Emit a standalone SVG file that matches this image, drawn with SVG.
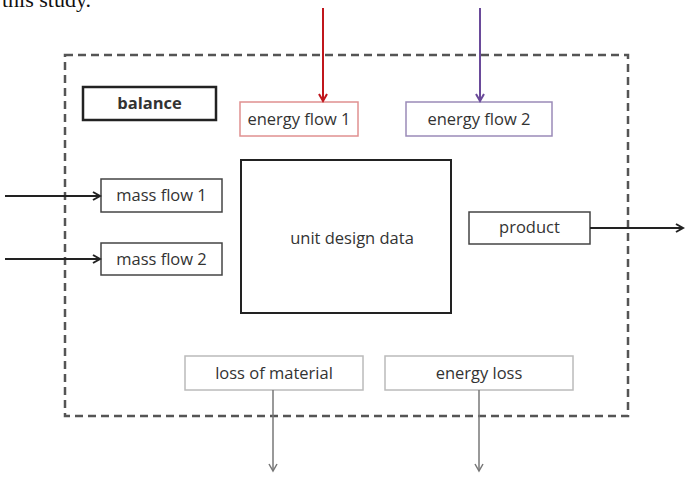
<svg xmlns="http://www.w3.org/2000/svg" width="685" height="477" viewBox="0 0 685 477">
<defs>
<style>
.t{font-family:"Open Sans","Liberation Sans",sans-serif;font-size:16.5px;fill:#333;text-anchor:middle}
.g{fill:#fff;stroke:#bbb;stroke-width:1.5}
.k{fill:#fff;stroke:#444;stroke-width:1.5}
</style>
<marker id="ak" markerWidth="10" markerHeight="10" refX="8" refY="5" orient="auto" markerUnits="userSpaceOnUse"><path d="M1,1 L8,5 L1,9" fill="none" stroke="#222" stroke-width="2"/></marker>
<marker id="ar" markerWidth="10" markerHeight="10" refX="8" refY="5" orient="auto" markerUnits="userSpaceOnUse"><path d="M1,1 L8,5 L1,9" fill="none" stroke="#c0161c" stroke-width="2"/></marker>
<marker id="ap" markerWidth="10" markerHeight="10" refX="8" refY="5" orient="auto" markerUnits="userSpaceOnUse"><path d="M1,1 L8,5 L1,9" fill="none" stroke="#6a4a9a" stroke-width="2"/></marker>
<marker id="ag" markerWidth="10" markerHeight="10" refX="8" refY="5" orient="auto" markerUnits="userSpaceOnUse"><path d="M1,1 L8,5 L1,9" fill="none" stroke="#777" stroke-width="1.5"/></marker>
</defs>
<rect width="685" height="477" fill="#fff"/>
<text x="2" y="7" font-family="Liberation Serif,serif" font-size="22" fill="#111">this study.</text>
<rect id="frame" x="65" y="55" width="563" height="361" fill="none" stroke="#555" stroke-width="2.5" stroke-dasharray="8,5"/>
<g id="balance"><rect x="83" y="87" width="133" height="33" fill="#fff" stroke="#222" stroke-width="2.5"/><text class="t" x="149.5" y="109" font-weight="bold" fill="#222" font-size="16">balance</text></g>
<g id="ef1"><rect x="240" y="102" width="118" height="34" fill="#fff" stroke="#e09090" stroke-width="1.5"/><text class="t" x="299" y="125">energy flow 1</text></g>
<g id="ef2"><rect x="406" y="102" width="146" height="34" fill="#fff" stroke="#9a8ab8" stroke-width="1.5"/><text class="t" x="479" y="125">energy flow 2</text></g>
<g id="unit"><rect x="241" y="160" width="210" height="153" fill="#fff" stroke="#222" stroke-width="2"/><text class="t" x="352" y="244">unit design data</text></g>
<g id="mf1"><rect class="k" x="101" y="179" width="121" height="33"/><text class="t" x="161.5" y="201">mass flow 1</text></g>
<g id="mf2"><rect class="k" x="101" y="243" width="121" height="32"/><text class="t" x="161.5" y="265">mass flow 2</text></g>
<g id="product"><rect class="k" x="469" y="212" width="121" height="32"/><text class="t" x="529.5" y="233">product</text></g>
<g id="lom"><rect class="g" x="185" y="356" width="178" height="34"/><text class="t" x="274" y="379">loss of material</text></g>
<g id="el"><rect class="g" x="385" y="356" width="188" height="34"/><text class="t" x="479" y="379">energy loss</text></g>
<g id="connectors" fill="none">
<line x1="323" y1="8" x2="323" y2="101" stroke="#c0161c" stroke-width="2" marker-end="url(#ar)"/>
<line x1="480" y1="8" x2="480" y2="101" stroke="#6a4a9a" stroke-width="2" marker-end="url(#ap)"/>
<line x1="5" y1="196" x2="100" y2="196" stroke="#222" stroke-width="2" marker-end="url(#ak)"/>
<line x1="5" y1="259" x2="100" y2="259" stroke="#222" stroke-width="2" marker-end="url(#ak)"/>
<line x1="590" y1="228" x2="683" y2="228" stroke="#222" stroke-width="2" marker-end="url(#ak)"/>
<line x1="273" y1="390" x2="273" y2="471" stroke="#777" stroke-width="1.5" marker-end="url(#ag)"/>
<line x1="479" y1="390" x2="479" y2="471" stroke="#777" stroke-width="1.5" marker-end="url(#ag)"/>
</g>
</svg>
